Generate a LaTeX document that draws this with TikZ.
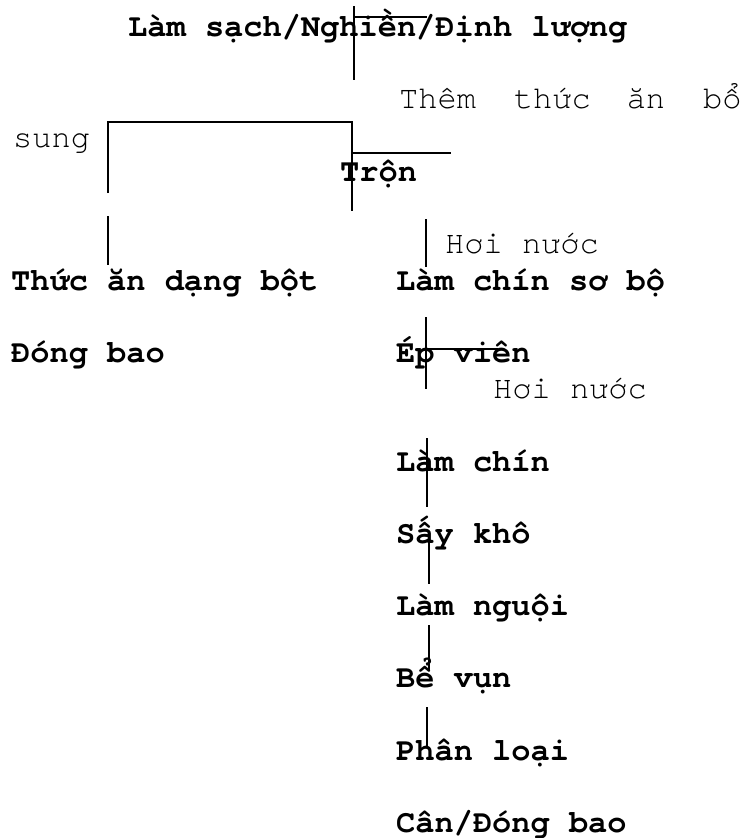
\documentclass[tikz,border=0pt]{standalone}
\usepackage{fontspec}
\newfontfamily\cour{texgyrecursor}[Extension=.otf, UprightFont=*-regular, BoldFont=*-bold]
\begin{document}
\begin{tikzpicture}[x=1pt,y=-1pt,
  lbl/.style={anchor=base west, inner sep=0pt, font=\cour\fontsize{32}{32}\selectfont},
  bl/.style={anchor=base west, inner sep=0pt, font=\cour\bfseries\fontsize{32}{32}\selectfont},
  conn/.style={line width=1.7pt, line cap=butt}]
\useasboundingbox (0,0) rectangle (745,838);
% texts
\node[bl]  (t1)    at (128,36)  {Làm sạch/Nghiền/Định lượng};
\node[lbl] (them)  at (399,108) {Thêm\hskip 38pt thức\hskip 36pt ăn\hskip 38pt bổ};
\node[lbl] (sung)  at (13,147)  {sung};
\node[bl]  (tron)  at (340,181) {Trộn};
\node[lbl] (hoi1)  at (445,253) {Hơi nước};
\node[bl]  (bot)   at (11,290)  {Thức ăn dạng bột};
\node[bl]  (lcsb)  at (396,290) {Làm chín sơ bộ};
\node[bl]  (dbao)  at (11,362)  {Đóng bao};
\node[bl]  (ep)    at (396,362) {Ép viên};
\node[lbl] (hoi2)  at (493,398) {Hơi nước};
\node[bl]  (lc)    at (396,471) {Làm chín};
\node[bl]  (say)   at (396,543) {Sấy khô};
\node[bl]  (lng)   at (396,615) {Làm nguội};
\node[bl]  (be)    at (396,687) {Bể vụn};
\node[bl]  (pl)    at (396,760) {Phân loại};
\node[bl]  (can)   at (396,832) {Cân/Đóng bao};
% line end points
\coordinate (a1) at (354,6);   \coordinate (a2) at (354,80);
\coordinate (a3) at (354,17);  \coordinate (a4) at (427,17);
\coordinate (b1) at (108,193); \coordinate (b2) at (108,122);
\coordinate (b3) at (352,122); \coordinate (b4) at (352,211);
\coordinate (c1) at (352,153); \coordinate (c2) at (451,153);
\coordinate (d1) at (108,216); \coordinate (d2) at (108,265);
\coordinate (e1) at (426,219); \coordinate (e2) at (426,267);
\coordinate (f1) at (426,317); \coordinate (f2) at (426,389);
\coordinate (f3) at (426,349); \coordinate (f4) at (498,349);
\coordinate (g1) at (427,438); \coordinate (g2) at (427,507);
\coordinate (h1) at (429,542); \coordinate (h2) at (429,584);
\coordinate (i1) at (429,625); \coordinate (i2) at (429,670);
\coordinate (j1) at (427,707); \coordinate (j2) at (427,748);
% lines
\draw[conn] (a1) -- (a2);
\draw[conn] (a3) -- (a4);
\draw[conn] (b1) -- (b2) -- (b3) -- (b4);
\draw[conn] (c1) -- (c2);
\draw[conn] (d1) -- (d2);
\draw[conn] (e1) -- (e2);
\draw[conn] (f1) -- (f2);
\draw[conn] (f3) -- (f4);
\draw[conn] (g1) -- (g2);
\draw[conn] (h1) -- (h2);
\draw[conn] (i1) -- (i2);
\draw[conn] (j1) -- (j2);
\end{tikzpicture}
\end{document}
